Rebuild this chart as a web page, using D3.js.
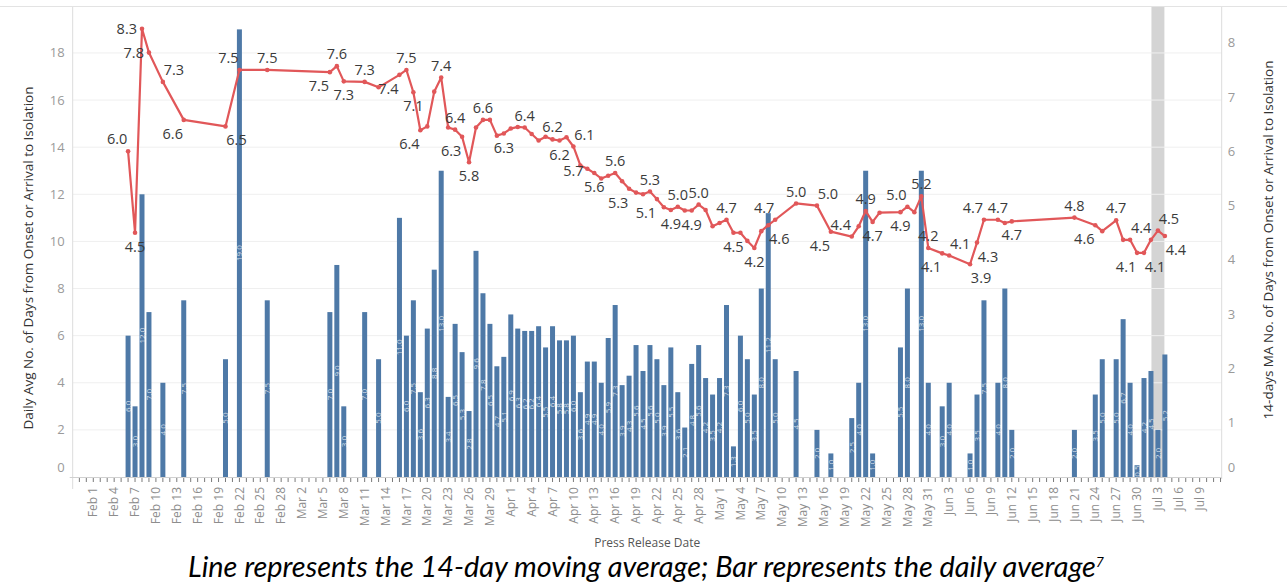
<!DOCTYPE html>
<html><head><meta charset="utf-8">
<script src="https://cdn.jsdelivr.net/npm/d3@7/dist/d3.min.js"></script>
<style>
body { margin: 0; background: #fff; }
svg { display: block; font-family: "Open Sans", sans-serif; }
</style>
</head><body>
<svg width="1287" height="587"></svg>
<script>

// press release dates (2020) with a reading
var pressDates = [
  "2020-02-06","2020-02-07","2020-02-08","2020-02-09","2020-02-11","2020-02-14","2020-02-20","2020-02-22","2020-02-26",
  "2020-03-06","2020-03-07","2020-03-08","2020-03-11","2020-03-13","2020-03-16","2020-03-17","2020-03-18","2020-03-19",
  "2020-03-20","2020-03-21","2020-03-22","2020-03-23","2020-03-24","2020-03-25","2020-03-26","2020-03-27","2020-03-28",
  "2020-03-29","2020-03-30","2020-03-31",
  "2020-04-01","2020-04-02","2020-04-03","2020-04-04","2020-04-05","2020-04-06","2020-04-07","2020-04-08","2020-04-09",
  "2020-04-10","2020-04-11","2020-04-12","2020-04-13","2020-04-14","2020-04-15","2020-04-16","2020-04-17","2020-04-18",
  "2020-04-19","2020-04-20","2020-04-21","2020-04-22","2020-04-23","2020-04-24","2020-04-25","2020-04-26","2020-04-27",
  "2020-04-28","2020-04-29","2020-04-30",
  "2020-05-01","2020-05-02","2020-05-03","2020-05-04","2020-05-05","2020-05-06","2020-05-07","2020-05-08","2020-05-09",
  "2020-05-12","2020-05-15","2020-05-17","2020-05-20","2020-05-21","2020-05-22","2020-05-23","2020-05-24","2020-05-27",
  "2020-05-28","2020-05-29","2020-05-30","2020-05-31",
  "2020-06-02","2020-06-03","2020-06-06","2020-06-07","2020-06-08","2020-06-10","2020-06-11","2020-06-12","2020-06-21",
  "2020-06-24","2020-06-25","2020-06-27","2020-06-28","2020-06-29","2020-06-30",
  "2020-07-01","2020-07-02","2020-07-03","2020-07-04"
];

// daily average (bars, left axis); null = no bar that day
var dailyAvg = [
  6.0, 3.0, 12.0, 7.0, 4.0, 7.5, 5.0, 19.0, 7.5,
  7.0, 9.0, 3.0, 7.0, 5.0, 11.0, 6.0, 7.5, 3.6,
  6.3, 8.8, 13.0, 3.4, 6.5, 5.3, 2.8, 9.6, 7.8,
  6.5, 4.7, 5.1,
  6.9, 6.3, 6.2, 6.2, 6.4, 5.5, 6.4, 5.8, 5.8,
  6.0, 3.6, 4.9, 4.9, 4.0, 5.9, 7.3, 3.9, 4.3,
  5.6, 4.5, 5.6, 5.0, 3.9, 5.5, 3.6, 2.1, 4.8,
  5.6, 4.2, 3.5,
  4.2, 7.3, 1.3, 6.0, 5.0, 3.5, 8.0, 11.2, 5.0,
  4.5, 2.0, 1.0, 2.5, 4.0, 13.0, 1.0, null, 5.5,
  8.0, null, 13.0, 4.0,
  3.0, 4.0, 1.0, 3.5, 7.5, 4.0, 8.0, 2.0, 2.0,
  3.5, 5.0, 5.0, 6.7, 4.0, 0.5,
  4.2, 4.5, 2.0, 5.2
];

// 14-day moving average (line, right axis)
var movingAvg = [
  6.00, 4.50, 8.26, 7.82, 7.28, 6.58, 6.46, 7.50, 7.50,
  7.46, 7.57, 7.29, 7.28, 7.18, 7.41, 7.50, 7.09, 6.39,
  6.46, 7.10, 7.36, 6.44, 6.40, 6.27, 5.80, 6.44, 6.58,
  6.58, 6.29, 6.33,
  6.42, 6.45, 6.44, 6.32, 6.20, 6.27, 6.22, 6.20, 6.26,
  6.09, 5.74, 5.68, 5.60, 5.50, 5.55, 5.60, 5.45, 5.31,
  5.24, 5.21, 5.26, 5.12, 4.97, 4.92, 4.98, 4.91, 4.91,
  5.02, 4.92, 4.62,
  4.68, 4.74, 4.50, 4.50, 4.35, 4.22, 4.53, 4.64, 4.74,
  5.04, 5.00, 4.52, 4.43, 4.62, 4.90, 4.70, 4.87, 4.88,
  4.98, 4.88, 5.17, 4.22,
  4.12, 4.08, 3.92, 4.32, 4.74, 4.74, 4.68, 4.71, 4.78,
  4.64, 4.53, 4.73, 4.37, 4.37, 4.13,
  4.13, 4.37, 4.54, 4.44
];

var leftTicks = [0, 2, 4, 6, 8, 10, 12, 14, 16, 18];
var rightTicks = [0, 1, 2, 3, 4, 5, 6, 7, 8];
var highlightDate = "2020-07-03";

// where each line label sits (layout only, "" = hidden)
var labelSpot = [
  "tl","b","l","l","tr","bl","br","tl","t",
  "bl","t","b","t","","bl","t","b","bl",
  "","","t","","t","bl","b","","t",
  "","","b",
  "","","t","","","","t","b","",
  "tr","lb","","b","","","t","","bl",
  "","","t","bl","","b","t","","b",
  "t","","",
  "","t","b","","","b","","br","tl",
  "t","tr","bl","tl","","t","b","","b",
  "tl","","t","t",
  "bl","tr","br","br","tl","t","","b","t",
  "bl","","t","","tr","bl",
  "br","","tr","br"
];

var svg = d3.select("svg"),
    width = +svg.attr("width"),
    height = +svg.attr("height");

var plot = {left: 72.7, right: 1221.7, top: 7, bottom: 477};

var parseDay = d3.utcParse("%Y-%m-%d");
var feb1 = parseDay("2020-02-01");
var rows = pressDates.map(function(s, i) {
  return {date: parseDay(s), bar: dailyAvg[i], ma: movingAvg[i], spot: labelSpot[i]};
});

var x = d3.scaleUtc()
    .domain([d3.utcHour.offset(feb1, -70.3), d3.utcHour.offset(feb1, 3892)])
    .range([plot.left, plot.right]);
var dayW = x(d3.utcDay.offset(feb1, 1)) - x(feb1);
var barW = 5;

var yL = d3.scaleLinear().domain([0, 19.95]).range([plot.bottom, plot.top]);
var yR = d3.scaleLinear().domain([0, 8.66]).range([plot.bottom, plot.top]);

// top rule + highlight band
svg.append("line")
    .attr("x1", 0).attr("x2", width).attr("y1", 6.5).attr("y2", 6.5)
    .attr("stroke", "#e3e3e3");

var hx = x(parseDay(highlightDate));
svg.append("rect")
    .attr("x", hx - dayW * 0.93).attr("width", dayW * 1.86)
    .attr("y", plot.top).attr("height", plot.bottom - plot.top)
    .attr("fill", "#d4d4d4");

// gridlines
svg.append("g").selectAll("line")
  .data(leftTicks.filter(function(d) { return d > 0; }))
  .join("line")
    .attr("x1", plot.left).attr("x2", plot.right)
    .attr("y1", function(d) { return yL(d); }).attr("y2", function(d) { return yL(d); })
    .attr("stroke", "#efefef");

// bars
var bars = rows.filter(function(d) { return d.bar != null; });
svg.append("g").selectAll("rect")
  .data(bars)
  .join("rect")
    .attr("x", function(d) { return x(d.date) - barW / 2; })
    .attr("width", barW)
    .attr("y", function(d) { return yL(d.bar); })
    .attr("height", function(d) { return yL(0) - yL(d.bar); })
    .attr("fill", "#4e79a7");

svg.append("g").selectAll("text")
  .data(bars)
  .join("text")
    .attr("transform", function(d) {
      return "translate(" + x(d.date) + "," + (yL(d.bar / 2)) + ") rotate(-90)";
    })
    .attr("text-anchor", "middle")
    .attr("dy", "0.35em")
    .attr("font-size", 8)
    .attr("fill", "#fff")
    .attr("fill-opacity", 0.75)
    .text(function(d) { return d3.format(".1f")(d.bar); });

// axis lines
svg.append("line")
    .attr("x1", plot.left).attr("x2", plot.left).attr("y1", plot.top).attr("y2", plot.bottom + 12)
    .attr("stroke", "#dcdcdc");
svg.append("line")
    .attr("x1", plot.right).attr("x2", plot.right).attr("y1", plot.top).attr("y2", plot.bottom + 2)
    .attr("stroke", "#dcdcdc");
svg.append("line")
    .attr("x1", plot.left - 3).attr("x2", plot.right).attr("y1", plot.bottom + 0.5).attr("y2", plot.bottom + 0.5)
    .attr("stroke", "#d0d0d0");

// x axis: daily ticks, labels every 3 days
var allDays = d3.utcDay.range(d3.utcDay.offset(feb1, -2), d3.utcDay.offset(feb1, 163));
svg.append("g").selectAll("line")
  .data(allDays)
  .join("line")
    .attr("x1", function(d) { return x(d); }).attr("x2", function(d) { return x(d); })
    .attr("y1", plot.bottom + 1).attr("y2", plot.bottom + 5)
    .attr("stroke", "#7a7a7a");

var labelDays = d3.utcDay.range(feb1, parseDay("2020-07-10"), 3);
var fmtDay = d3.utcFormat("%b %-d");
svg.append("g").selectAll("text")
  .data(labelDays)
  .join("text")
    .attr("transform", function(d) { return "translate(" + x(d) + "," + (plot.bottom + 10) + ") rotate(-90)"; })
    .attr("text-anchor", "end")
    .attr("dy", "0.35em")
    .attr("font-size", 12)
    .attr("fill", "#8d8d8d")
    .text(fmtDay);

// y axes
svg.append("g").selectAll("text")
  .data(leftTicks)
  .join("text")
    .attr("x", plot.left - 8)
    .attr("y", function(d) { return d === 0 ? yL(d) - 10 : yL(d); })
    .attr("dy", "0.35em")
    .attr("text-anchor", "end")
    .attr("font-size", 13)
    .attr("fill", "#9a9a9a")
    .text(function(d) { return d; });

svg.append("g").selectAll("text")
  .data(rightTicks)
  .join("text")
    .attr("x", plot.right + 6)
    .attr("y", function(d) { return d === 0 ? yR(d) - 10 : yR(d); })
    .attr("dy", "0.35em")
    .attr("font-size", 13)
    .attr("fill", "#9a9a9a")
    .text(function(d) { return d; });

svg.append("text")
    .attr("transform", "translate(28,258) rotate(-90)")
    .attr("text-anchor", "middle")
    .attr("dy", "0.35em")
    .attr("font-size", 13.5)
    .attr("fill", "#333")
    .text("Daily Avg No. of Days from Onset or Arrival to Isolation");

svg.append("text")
    .attr("transform", "translate(1268,240) rotate(-90)")
    .attr("text-anchor", "middle")
    .attr("dy", "0.35em")
    .attr("font-size", 13.5)
    .attr("fill", "#333")
    .text("14-days MA No. of Days from Onset or Arrival to Isolation");

svg.append("text")
    .attr("x", (plot.left + plot.right) / 2)
    .attr("y", 543)
    .attr("dy", "0.35em")
    .attr("text-anchor", "middle")
    .attr("font-size", 12)
    .attr("fill", "#555")
    .text("Press Release Date");

// moving average line
var line = d3.line()
    .x(function(d) { return x(d.date); })
    .y(function(d) { return yR(d.ma); });

svg.append("path")
    .datum(rows)
    .attr("d", line)
    .attr("fill", "none")
    .attr("stroke", "#e15759")
    .attr("stroke-width", 2.2)
    .attr("stroke-linejoin", "round");

svg.append("g").selectAll("circle")
  .data(rows)
  .join("circle")
    .attr("cx", function(d) { return x(d.date); })
    .attr("cy", function(d) { return yR(d.ma); })
    .attr("r", 2.3)
    .attr("fill", "#e15759");

var spotOffset = {
  t: [0, -12, "middle"], b: [0, 14, "middle"],
  l: [-5, 0, "end"], r: [5, 0, "start"],
  lb: [-7, 5, "middle"],
  tl: [-11, -12, "middle"], tr: [11, -12, "middle"],
  bl: [-11, 14, "middle"], br: [11, 14, "middle"]
};

svg.append("g").selectAll("text")
  .data(rows.filter(function(d) { return d.spot; }))
  .join("text")
    .attr("x", function(d) { return x(d.date) + spotOffset[d.spot][0]; })
    .attr("y", function(d) { return yR(d.ma) + spotOffset[d.spot][1]; })
    .attr("dy", "0.35em")
    .attr("text-anchor", function(d) { return spotOffset[d.spot][2]; })
    .attr("font-size", 14.5)
    .attr("fill", "#3a3a3a")
    .text(function(d) { return d3.format(".1f")(d.ma); });

// caption
var cap = svg.append("text")
    .attr("x", 646)
    .attr("y", 577)
    .attr("text-anchor", "middle")
    .attr("font-family", "Lato, sans-serif")
    .attr("font-style", "italic")
    .attr("font-size", 24)
    .attr("fill", "#000");
cap.append("tspan").text("Line represents the 14-day moving average; Bar represents the daily average");
cap.append("tspan").attr("font-size", 14).attr("dy", -10).text("7");
var capW = cap.node().getComputedTextLength();
cap.attr("font-size", 24 * 918 / capW);

</script>
</body></html>
